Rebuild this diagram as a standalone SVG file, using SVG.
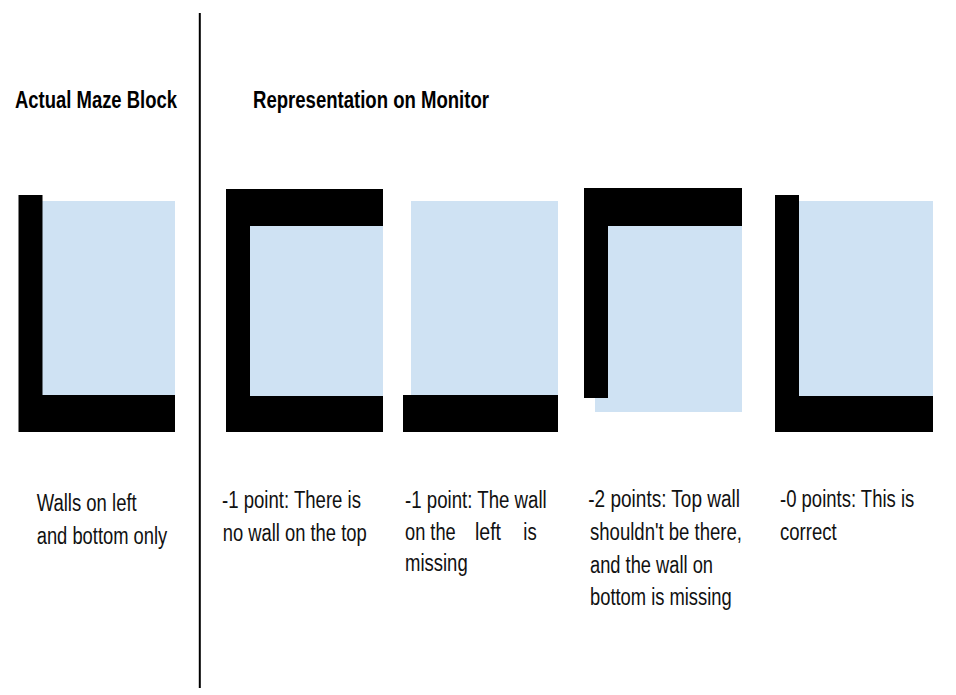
<svg xmlns="http://www.w3.org/2000/svg" width="956" height="695" viewBox="0 0 956 695">
<style>
.bg{fill:#ffffff}
.cell{fill:#cfe2f3}
.wall{fill:#000000}
.h{font-family:"Liberation Sans",Arial,sans-serif;font-weight:bold;font-size:23px;fill:#000}
.t{font-family:"Liberation Sans",Arial,sans-serif;font-size:23px;fill:#111}
</style>
<rect class="bg" x="0" y="0" width="956" height="695"/>
<g id="divider">
<line x1="199.8" y1="13" x2="199.8" y2="688" stroke="#000" stroke-width="2"/>
</g>
<g id="headings">
<text class="h" x="15" y="107.5" textLength="162" lengthAdjust="spacingAndGlyphs">Actual Maze Block</text>
<text class="h" x="253" y="107.5" textLength="236" lengthAdjust="spacingAndGlyphs">Representation on Monitor</text>
</g>
<g id="block-actual">
<rect class="cell" x="42" y="201" width="133" height="196"/>
<rect class="wall" x="18.5" y="195" width="24" height="237"/>
<rect class="wall" x="19" y="395" width="156" height="37"/>
<text class="t" x="36.7" y="511" textLength="100" lengthAdjust="spacingAndGlyphs">Walls on left</text>
<text class="t" x="36.7" y="544" textLength="130.6" lengthAdjust="spacingAndGlyphs">and bottom only</text>
</g>
<g id="block-1">
<rect class="cell" x="250" y="226" width="133" height="170"/>
<rect class="wall" x="226" y="189" width="157" height="37"/>
<rect class="wall" x="226" y="189" width="24" height="243"/>
<rect class="wall" x="227" y="396" width="156" height="36"/>
<text class="t" x="222" y="508" textLength="139" lengthAdjust="spacingAndGlyphs">-1 point: There is</text>
<text class="t" x="222.7" y="541" textLength="144" lengthAdjust="spacingAndGlyphs">no wall on the top</text>
</g>
<g id="block-2">
<rect class="cell" x="411" y="201" width="147" height="195"/>
<rect class="wall" x="403" y="395" width="155" height="37"/>
<text class="t" x="405" y="508" textLength="141.7" lengthAdjust="spacingAndGlyphs">-1 point: The wall</text>
<text class="t" x="405" y="540" textLength="50.7" lengthAdjust="spacingAndGlyphs">on the</text>
<text class="t" x="475" y="540" textLength="26" lengthAdjust="spacingAndGlyphs">left</text>
<text class="t" x="523.3" y="540" textLength="13.4" lengthAdjust="spacingAndGlyphs">is</text>
<text class="t" x="405" y="571" textLength="62.7" lengthAdjust="spacingAndGlyphs">missing</text>
</g>
<g id="block-3">
<rect class="cell" x="595" y="226" width="147" height="186"/>
<rect class="wall" x="584" y="188" width="158" height="38"/>
<rect class="wall" x="584" y="188" width="24" height="210"/>
<text class="t" x="588.3" y="507" textLength="151.7" lengthAdjust="spacingAndGlyphs">-2 points: Top wall</text>
<text class="t" x="590" y="540" textLength="152" lengthAdjust="spacingAndGlyphs">shouldn't be there,</text>
<text class="t" x="590" y="573" textLength="123" lengthAdjust="spacingAndGlyphs">and the wall on</text>
<text class="t" x="590" y="605" textLength="141.7" lengthAdjust="spacingAndGlyphs">bottom is missing</text>
</g>
<g id="block-4">
<rect class="cell" x="799" y="201" width="134" height="195"/>
<rect class="wall" x="775" y="195" width="24" height="237"/>
<rect class="wall" x="777" y="396" width="156" height="36"/>
<text class="t" x="780" y="507" textLength="134.3" lengthAdjust="spacingAndGlyphs">-0 points: This is</text>
<text class="t" x="780" y="540" textLength="56.7" lengthAdjust="spacingAndGlyphs">correct</text>
</g>
<g id="connectors"></g>
</svg>
